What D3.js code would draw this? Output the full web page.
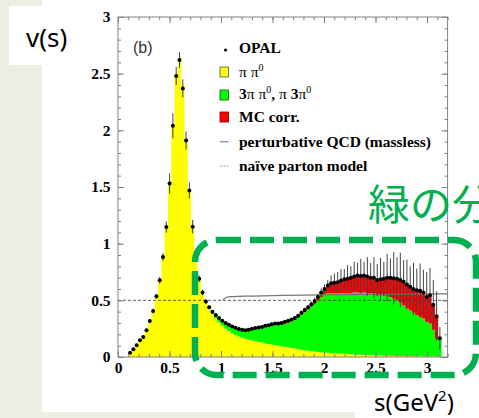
<!DOCTYPE html>
<html>
<head>
<meta charset="utf-8">
<script src="https://cdn.jsdelivr.net/npm/d3@7"></script>
<style>
  body { margin: 0; background: #ECEEE2; }
  svg { display: block; }
</style>
</head>
<body>
<svg id="chart" width="479" height="418"></svg>
<script>
// bin centres in s (GeV^2), bins are 0.032 wide
var sBins = [0.117,0.149,0.181,0.213,0.245,0.277,0.309,0.341,0.373,0.405,
  0.437,0.469,0.501,0.533,0.565,0.597,0.629,0.661,0.693,0.725,
  0.757,0.789,0.821,0.853,0.885,0.917,0.949,0.981,1.013,1.045,
  1.077,1.109,1.141,1.173,1.205,1.237,1.269,1.301,1.333,1.365,
  1.397,1.429,1.461,1.493,1.525,1.557,1.589,1.621,1.653,1.685,
  1.717,1.749,1.781,1.813,1.845,1.877,1.909,1.941,1.973,2.005,
  2.037,2.069,2.101,2.133,2.165,2.197,2.229,2.261,2.293,2.325,
  2.357,2.389,2.421,2.453,2.485,2.517,2.549,2.581,2.613,2.645,
  2.677,2.709,2.741,2.773,2.805,2.837,2.869,2.901,2.933,2.965,
  2.997,3.029,3.061,3.093,3.125];
var binWidth = 0.032;

// OPAL data points v(s) and errors
var opal = [0.038,0.068,0.103,0.147,0.176,0.235,0.318,0.406,0.535,0.677,
  0.883,1.147,1.53,2.04,2.48,2.62,2.37,1.91,1.47,1.15,
  0.90,0.69,0.57,0.49,0.44,0.40,0.37,0.345,0.32,0.30,
  0.285,0.27,0.258,0.248,0.24,0.235,0.24,0.25,0.255,0.26,
  0.265,0.275,0.28,0.29,0.295,0.295,0.30,0.31,0.32,0.33,
  0.345,0.365,0.39,0.415,0.44,0.465,0.495,0.53,0.57,0.60,
  0.63,0.65,0.655,0.66,0.675,0.685,0.69,0.70,0.71,0.72,
  0.715,0.72,0.71,0.70,0.70,0.68,0.685,0.69,0.70,0.70,
  0.695,0.69,0.68,0.665,0.64,0.62,0.60,0.59,0.585,0.57,
  0.53,0.545,0.46,0.36,0.165];
var opalErr = [0.008,0.008,0.01,0.01,0.012,0.015,0.015,0.02,0.02,0.03,
  0.035,0.05,0.09,0.11,0.08,0.07,0.08,0.08,0.07,0.06,
  0.04,0.03,0.025,0.02,0.015,0.015,0.015,0.012,0.012,0.012,
  0.012,0.012,0.012,0.012,0.012,0.012,0.012,0.012,0.012,0.012,
  0.012,0.012,0.012,0.012,0.012,0.012,0.012,0.012,0.012,0.015,
  0.015,0.015,0.018,0.02,0.02,0.025,0.03,0.03,0.035,0.04,
  0.05,0.07,0.08,0.09,0.10,0.09,0.12,0.10,0.13,0.11,
  0.15,0.12,0.17,0.13,0.18,0.14,0.19,0.15,0.21,0.17,
  0.23,0.19,0.24,0.19,0.22,0.18,0.23,0.19,0.24,0.20,
  0.22,0.24,0.22,0.22,0.10];

// Monte Carlo contributions (stacked)
var pipi = [0.04,0.07,0.10,0.14,0.18,0.23,0.31,0.41,0.52,0.68,
  0.88,1.15,1.55,2.05,2.50,2.62,2.40,1.92,1.47,1.15,
  0.90,0.69,0.56,0.48,0.425,0.38,0.34,0.305,0.275,0.25,
  0.23,0.21,0.195,0.18,0.17,0.16,0.152,0.145,0.14,0.133,
  0.127,0.12,0.115,0.11,0.105,0.10,0.095,0.09,0.085,0.08,
  0.075,0.07,0.065,0.06,0.056,0.052,0.048,0.045,0.042,0.04,
  0.037,0.035,0.033,0.031,0.03,0.028,0.026,0.024,0.022,0.02,
  0.019,0.018,0.017,0.016,0.015,0.014,0.013,0.012,0.011,0.01,
  0.01,0.009,0.009,0.008,0.008,0.007,0.007,0.006,0.006,0.005,
  0.005,0.005,0.004,0.004,0.003];
var fourPi = [0,0,0,0,0,0,0,0,0,0,
  0,0,0,0,0,0,0,0,0,0,
  0,0,0.005,0.01,0.015,0.02,0.03,0.04,0.045,0.05,
  0.055,0.06,0.063,0.068,0.07,0.075,0.085,0.10,0.11,0.12,
  0.13,0.145,0.155,0.17,0.178,0.183,0.193,0.205,0.22,0.235,
  0.255,0.28,0.31,0.335,0.364,0.393,0.422,0.455,0.488,0.51,
  0.523,0.53,0.527,0.529,0.535,0.537,0.534,0.536,0.548,0.55,
  0.546,0.552,0.543,0.544,0.545,0.526,0.532,0.528,0.529,0.52,
  0.505,0.491,0.471,0.447,0.422,0.403,0.383,0.364,0.349,0.335,
  0.305,0.29,0.236,0.156,0.162];
var mcCorr = [0,0,0,0,0,0,0,0,0,0,
  0,0,0,0,0,0,0,0,0,0,
  0,0,0,0,0,0,0,0,0,0,
  0,0,0,0,0,0,0.003,0.005,0.005,0.007,
  0.008,0.01,0.01,0.01,0.012,0.012,0.012,0.015,0.015,0.015,
  0.015,0.015,0.015,0.02,0.02,0.02,0.025,0.03,0.04,0.05,
  0.07,0.085,0.095,0.10,0.11,0.12,0.13,0.14,0.14,0.15,
  0.15,0.15,0.15,0.14,0.14,0.14,0.14,0.15,0.16,0.17,
  0.18,0.19,0.20,0.21,0.21,0.21,0.21,0.22,0.23,0.23,
  0.22,0.25,0.22,0.20,0];

// perturbative QCD (massless) and naive parton model
var qcdS = [1.02,1.05,1.1,1.3,1.6,2.0,2.5,3.2];
var qcdV = [0.505,0.525,0.532,0.538,0.544,0.549,0.553,0.557];
var partonS = [0, 3.2];
var partonV = [0.5, 0.5];

var xTicks = [0,0.5,1,1.5,2,2.5,3];
var yTicks = [0,0.5,1,1.5,2,2.5,3];

var svg = d3.select("#chart");

// white slide panels
svg.append("rect").attr("x", 42).attr("y", 0).attr("width", 437).attr("height", 412).attr("fill", "#fff");
svg.append("rect").attr("x", 9).attr("y", 6).attr("width", 40).attr("height", 59).attr("fill", "#fff");
svg.append("rect").attr("x", 355).attr("y", 395).attr("width", 124).attr("height", 23).attr("fill", "#fff");

var x = d3.scaleLinear().domain([0, 3.2]).range([118, 447.6]);
var y = d3.scaleLinear().domain([0, 3]).range([357, 17]);

// stacked histogram
var rows = sBins.map(function (s, i) {
  return { s: s, pipi: pipi[i], fourPi: fourPi[i], mc: mcCorr[i] };
});
var stack = d3.stack().keys(["pipi", "fourPi", "mc"]);
var layers = stack(rows);
var colors = { pipi: "#ffff00", fourPi: "#00ff00", mc: "#ff0000" };

var area = d3.area()
  .curve(d3.curveStepAfter)
  .x(function (d) { return x(d.edge); })
  .y0(function (d) { return y(d.lo); })
  .y1(function (d) { return y(d.hi); });

layers.forEach(function (layer) {
  var pts = layer.map(function (d, i) {
    return { edge: sBins[i] - binWidth / 2, lo: d[0], hi: d[1] };
  });
  var last = pts[pts.length - 1];
  pts.push({ edge: sBins[sBins.length - 1] + binWidth / 2, lo: last.lo, hi: last.hi });
  svg.append("path")
    .datum(pts)
    .attr("fill", colors[layer.key])
    .attr("d", area);
});

// model lines
var line = d3.line().x(function (d) { return x(d[0]); }).y(function (d) { return y(d[1]); });
svg.append("path")
  .datum(d3.zip(partonS, partonV))
  .attr("fill", "none").attr("stroke", "#333").attr("stroke-width", 0.8)
  .attr("stroke-dasharray", "3,2")
  .attr("d", line);
svg.append("path")
  .datum(d3.zip(qcdS, qcdV))
  .attr("fill", "none").attr("stroke", "#777").attr("stroke-width", 1.3)
  .attr("d", line.curve(d3.curveMonotoneX));

// error bars and points
svg.append("g").selectAll("line")
  .data(sBins)
  .enter().append("line")
  .attr("x1", function (d) { return x(d); })
  .attr("x2", function (d) { return x(d); })
  .attr("y1", function (d, i) { return y(opal[i] - opalErr[i]); })
  .attr("y2", function (d, i) { return y(opal[i] + opalErr[i]); })
  .attr("stroke", "#444")
  .attr("stroke-width", 1);

svg.append("g").selectAll("circle")
  .data(sBins)
  .enter().append("circle")
  .attr("cx", function (d) { return x(d); })
  .attr("cy", function (d, i) { return y(opal[i]); })
  .attr("r", 2)
  .attr("fill", "#000");

// frame and ticks on all four sides
var xMinor = d3.range(0, 3.25, 0.1);
var yMinor = d3.range(0, 3.05, 0.1);
var tickColor = "#808080";

function styleAxis(g) {
  g.select(".domain").remove();
  g.selectAll("line").attr("stroke", tickColor);
  g.selectAll("text")
    .attr("fill", "#000")
    .style("font-family", "'Liberation Serif', serif")
    .style("font-weight", "bold")
    .style("font-size", "15.5px");
}

svg.append("g").attr("transform", "translate(0,357)")
  .call(d3.axisBottom(x).tickValues(xMinor).tickSize(-3).tickFormat("")).call(styleAxis);
svg.append("g").attr("transform", "translate(0,357)")
  .call(d3.axisBottom(x).tickValues(xTicks).tickSize(-6).tickPadding(4.5).tickFormat(d3.format("~g"))).call(styleAxis);
svg.append("g").attr("transform", "translate(0,17)")
  .call(d3.axisTop(x).tickValues(xMinor).tickSize(-3).tickFormat("")).call(styleAxis);
svg.append("g").attr("transform", "translate(0,17)")
  .call(d3.axisTop(x).tickValues(xTicks).tickSize(-6).tickFormat("")).call(styleAxis);
svg.append("g").attr("transform", "translate(118,0)")
  .call(d3.axisLeft(y).tickValues(yMinor).tickSize(-3).tickFormat("")).call(styleAxis);
svg.append("g").attr("transform", "translate(118,0)")
  .call(d3.axisLeft(y).tickValues(yTicks).tickSize(-6).tickPadding(7.5).tickFormat(d3.format("~g"))).call(styleAxis);
svg.append("g").attr("transform", "translate(447.6,0)")
  .call(d3.axisRight(y).tickValues(yMinor).tickSize(-3).tickFormat("")).call(styleAxis);
svg.append("g").attr("transform", "translate(447.6,0)")
  .call(d3.axisRight(y).tickValues(yTicks).tickSize(-6).tickFormat("")).call(styleAxis);

svg.append("rect")
  .attr("x", 118).attr("y", 17).attr("width", 329.6).attr("height", 340)
  .attr("fill", "none").attr("stroke", tickColor).attr("stroke-width", 1);

// panel label
svg.append("text")
  .attr("x", 133).attr("y", 53.3)
  .style("font-family", "'Liberation Sans', Arial, sans-serif")
  .style("font-size", "16px")
  .attr("fill", "#333")
  .text("(b)");

// legend
var legendY = [50, 72, 95, 117, 141.7, 166];
var lg = svg.append("g")
  .style("font-family", "'Liberation Serif', serif")
  .style("font-weight", "bold")
  .style("font-size", "15.5px");

lg.append("circle").attr("cx", 225.5).attr("cy", legendY[0]).attr("r", 1.6).attr("fill", "#000");
[["#ffff00", "#555"], ["#00ff00", "#006600"], ["#ff0000", "#770000"]].forEach(function (c, i) {
  lg.append("rect")
    .attr("x", 220).attr("y", legendY[i + 1] - 5)
    .attr("width", 8.5).attr("height", 10)
    .attr("fill", c[0]).attr("stroke", c[1]).attr("stroke-width", 0.8);
});
lg.append("line").attr("x1", 220).attr("x2", 228.5).attr("y1", legendY[4]).attr("y2", legendY[4])
  .attr("stroke", "#999").attr("stroke-width", 1.5);
lg.append("line").attr("x1", 220).attr("x2", 228.5).attr("y1", legendY[5]).attr("y2", legendY[5])
  .attr("stroke", "#999").attr("stroke-width", 1).attr("stroke-dasharray", "2,1.5");

var legendText = [
  [["OPAL", "b"]],
  [["π π", "n"], ["0", "sup"]],
  [["3", "b"], ["π π", "n"], ["0", "sup"], [", ", "b"], ["π ", "n"], ["3", "b"], ["π", "n"], ["0", "sup"]],
  [["MC corr.", "b"]],
  [["perturbative QCD (massless)", "b"]],
  [["naïve parton model", "b"]]
];
var legendBase = [53.3, 76.5, 99.3, 122.3, 146.7, 170.5];

legendText.forEach(function (parts, i) {
  var t = lg.append("text").attr("x", 239).attr("y", legendBase[i]);
  var up = false;
  parts.forEach(function (p) {
    var ts = t.append("tspan").text(p[0]);
    if (p[1] === "n") ts.style("font-weight", "normal");
    if (p[1] === "sup") {
      ts.style("font-size", "10px").style("font-weight", "normal").attr("dy", -6);
      up = true;
    } else if (up) {
      ts.attr("dy", 6);
      up = false;
    }
  });
});

// slide annotations
svg.append("text")
  .attr("x", 26).attr("y", 47)
  .style("font-family", "'Noto Sans', sans-serif")
  .style("font-size", "26px")
  .attr("fill", "#000")
  .text("v(s)");

var axisLab = svg.append("text")
  .attr("x", 374).attr("y", 411)
  .style("font-family", "'Noto Sans', sans-serif")
  .style("font-size", "24px")
  .attr("fill", "#000");
axisLab.append("tspan").text("s(GeV");
axisLab.append("tspan").text("2").style("font-size", "15px").attr("dy", -10);
axisLab.append("tspan").text(")").attr("dy", 10);

svg.append("rect")
  .attr("x", 195).attr("y", 240).attr("width", 281).attr("height", 135)
  .attr("rx", 22).attr("ry", 22)
  .attr("fill", "none").attr("stroke", "#00B050").attr("stroke-width", 6.5)
  .attr("stroke-dasharray", "24,9");

// the slide text runs past the right edge of the picture, as in the source
svg.append("text")
  .attr("x", 368).attr("y", 220)
  .style("font-family", "'Noto Sans CJK JP', sans-serif")
  .style("font-size", "42px")
  .attr("fill", "#00B050")
  .text("緑の分布");
</script>
</body>
</html>
